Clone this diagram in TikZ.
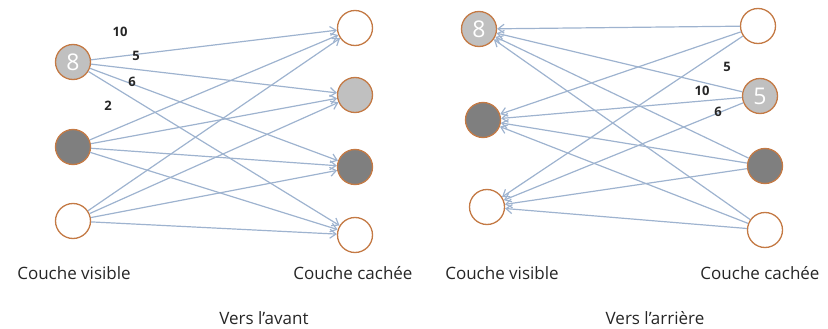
\documentclass[tikz,border=0pt]{standalone}
\usepackage{fontspec}
\setmainfont{Open Sans}
\usetikzlibrary{arrows.meta}
\definecolor{nodeborder}{HTML}{C47A45}
\definecolor{lightfill}{HTML}{C0C0C0}
\definecolor{darkfill}{HTML}{7F7F7F}
\definecolor{edgecol}{HTML}{9EB3CF}
\begin{document}
\begin{tikzpicture}[x=1pt,y=-1pt,
  neuron/.style={circle,draw=nodeborder,line width=1.3pt,minimum size=35pt,inner sep=0pt,font=\fontsize{23}{23}\selectfont,text=white},
  empty/.style={neuron,fill=white},
  light/.style={neuron,fill=lightfill},
  dark/.style={neuron,fill=darkfill},
  conn/.style={draw=edgecol,line width=1.2pt,-{Straight Barb[length=6pt,width=9pt]}},
  wlabel/.style={font=\bfseries\fontsize{13}{13}\selectfont,text=black!85},
  caption/.style={font=\fontsize{17}{17}\selectfont,text=black!85}]
\useasboundingbox (0,0) rectangle (828,329);
% Left: forward
\node[light] (v1) at (73,62) {8};
\node[dark]  (v2) at (73,147) {};
\node[empty] (v3) at (73,221) {};
\node[empty] (h1) at (355,28) {};
\node[light] (h2) at (355,95) {};
\node[dark]  (h3) at (355,167) {};
\node[empty] (h4) at (355,235) {};
\foreach \v in {v1,v2,v3}{\foreach \h in {h1,h2,h3,h4}{\draw[conn] (\v) -- (\h);}}
\node[wlabel] (l10) at (120,32) {10};
\node[wlabel] (l5) at (136,56) {5};
\node[wlabel] (l6) at (132,82) {6};
\node[wlabel] (l2) at (108,106) {2};
% Right: backward
\node[light] (rv1) at (479,29) {8};
\node[dark]  (rv2) at (483,120) {};
\node[empty] (rv3) at (487,207) {};
\node[empty] (rh1) at (758,26) {};
\node[light] (rh2) at (760,96) {5};
\node[dark]  (rh3) at (765,166) {};
\node[empty] (rh4) at (765,230) {};
\foreach \h in {rh1,rh2,rh3,rh4}{\foreach \v in {rv1,rv2,rv3}{\draw[conn] (\h) -- (\v);}}
\node[wlabel] (r5) at (727,67) {5};
\node[wlabel] (r10) at (702,91) {10};
\node[wlabel] (r6) at (718,112) {6};
% Captions
\node[caption] (c1) at (74,273) {Couche visible};
\node[caption] (c2) at (353,273) {Couche cachée};
\node[caption] (c3) at (502,273) {Couche visible};
\node[caption] (c4) at (760,273) {Couche cachée};
\node[caption] (t1) at (264,318) {Vers l’avant};
\node[caption] (t2) at (655,318) {Vers l’arrière};
\end{tikzpicture}
\end{document}
